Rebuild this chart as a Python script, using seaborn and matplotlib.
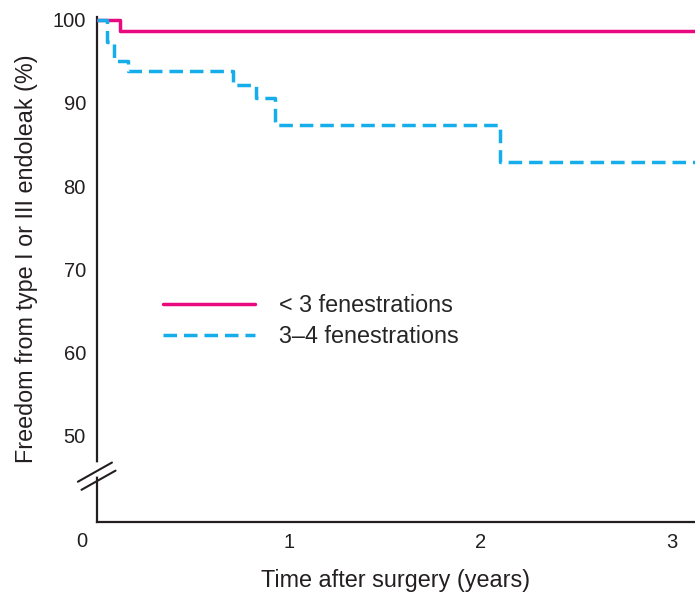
import numpy as np
import pandas as pd
import seaborn as sns
import matplotlib.pyplot as plt

# Dane (krzywe Kaplana-Meiera, schodkowe)
time_lt3 = [0.0, 0.12, 3.2]
surv_lt3 = [100.0, 98.7, 98.7]

time_34 = [0.0, 0.05, 0.09, 0.16, 0.71, 0.83, 0.93, 2.10, 3.2]
surv_34 = [100.0, 97.3, 95.0, 93.8, 92.2, 90.6, 87.4, 82.9, 82.9]

labels = ["< 3 fenestrations", "3\u20134 fenestrations"]
y_ticks = [50, 60, 70, 80, 90, 100]
x_ticks = [1, 2, 3]

pink = "#E8097F"
blue = "#16AEEA"
ink = "#231f20"

df = pd.concat([
    pd.DataFrame({"time": time_lt3, "surv": surv_lt3, "group": labels[0]}),
    pd.DataFrame({"time": time_34, "surv": surv_34, "group": labels[1]}),
])

sns.set_style("white")
plt.rcParams["font.family"] = ["Liberation Sans", "DejaVu Sans"]

fig = plt.figure(figsize=(6.95, 5.94), dpi=100)
ax = fig.add_axes([0.1396, 0.121, 0.8604, 0.850])

sns.lineplot(data=df[df["group"] == labels[0]], x="time", y="surv", ax=ax,
             color=pink, lw=2.5, drawstyle="steps-post", estimator=None,
             sort=False, label=labels[0])
sns.lineplot(data=df[df["group"] == labels[1]], x="time", y="surv", ax=ax,
             color=blue, lw=2.5, linestyle=(0, (3.9, 2.0)), drawstyle="steps-post",
             estimator=None, sort=False, label=labels[1])

ax.set_xlim(0, 3.12)
ax.set_ylim(39.6, 100.3)
ax.set_yticks(y_ticks)
ax.set_xticks(x_ticks)
ax.tick_params(axis="both", direction="in", length=8, width=1.5, labelsize=14.5,
               color=ink, labelcolor=ink, pad=8)

for s in ["top", "right"]:
    ax.spines[s].set_visible(False)
for s in ["left", "bottom"]:
    ax.spines[s].set_linewidth(1.6)
    ax.spines[s].set_color(ink)
    ax.spines[s].set_zorder(1)

# "0" w rogu
ax.text(-0.025, -0.038, "0", transform=ax.transAxes, fontsize=14.5,
        color=ink, ha="center", va="center")

# przerwa osi Y
ax.plot([0, 0], [0.095, 0.114], transform=ax.transAxes, color="white",
        lw=4, clip_on=False, zorder=3)
for dx, dy in ((0.0, 0.0), (0.006, 0.016)):
    ax.plot([-0.032 + dx, 0.025 + dx], [0.080 - dy, 0.118 - dy], transform=ax.transAxes,
            color=ink, lw=1.5, clip_on=False, zorder=4)

ax.set_xlabel("Time after surgery (years)", fontsize=16.8, color=ink, labelpad=12)
ax.set_ylabel("Freedom from type I or III endoleak (%)", fontsize=16.8, color=ink)
ax.yaxis.set_label_coords(-0.099, 0.522)

ax.legend(loc="upper left", bbox_to_anchor=(0.095, 0.47), frameon=False,
          fontsize=16.8, handlelength=3.95, handletextpad=1.0, labelspacing=0.33,
          borderaxespad=0)

fig.savefig("out.png", dpi=100)
